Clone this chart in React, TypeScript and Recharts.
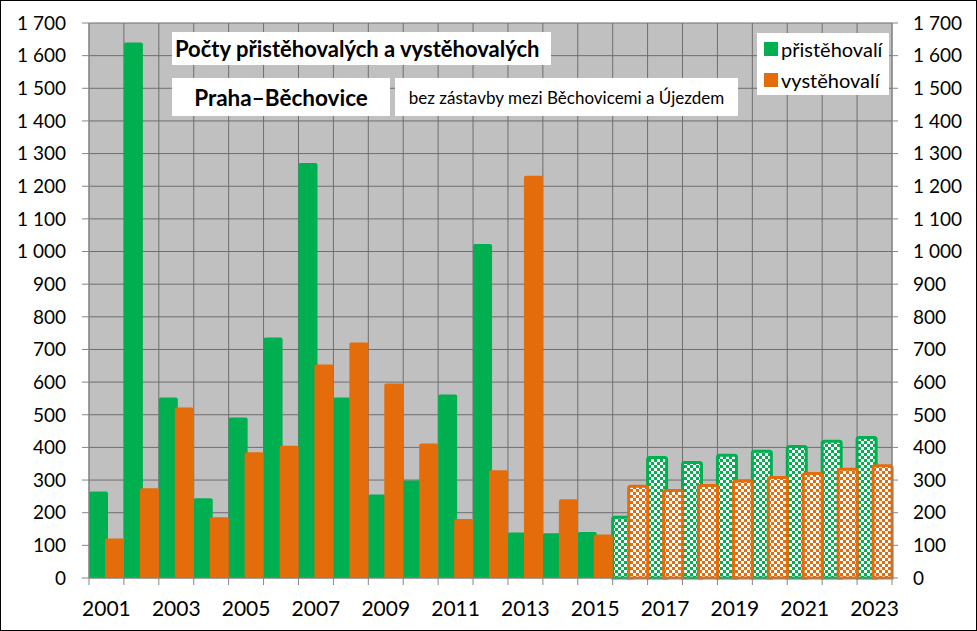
import React from "react";
import {
  ComposedChart,
  Bar,
  Line,
  Cell,
  XAxis,
  YAxis,
  CartesianGrid,
} from "recharts";

// roky a hodnoty (od 2016 odhad / projekce -> kostkovaný vzor)
const years = [
  "2001", "2002", "2003", "2004", "2005", "2006", "2007", "2008", "2009", "2010", "2011", "2012",
  "2013", "2014", "2015", "2016", "2017", "2018", "2019", "2020", "2021", "2022", "2023",
];
const immigrants = [
  265, 1640, 553, 244, 492, 737, 1271, 553, 256, 299, 562, 1023,
  139, 137, 141, 186, 369, 354, 376, 388, 403, 419, 430,
];
const emigrants = [
  121, 275, 522, 186, 385, 405, 654, 721, 596, 412, 181, 330,
  1232, 241, 133, 281, 268, 283, 297, 308, 320, 333, 344,
];
const firstProjectedYear = "2016";
const yTicks = [0, 100, 200, 300, 400, 500, 600, 700, 800, 900, 1000, 1100, 1200, 1300, 1400, 1500, 1600, 1700];

const GREEN = "#00b050";
const ORANGE = "#e46c0a";
const AXIS = "#868686";
const FONT = "Lato, 'Noto Sans', sans-serif";

const data = years.map((year, i) => ({
  year,
  prist: immigrants[i],
  vyst: emigrants[i],
}));

const formatThousands = (v: number) =>
  v >= 1000 ? `${Math.floor(v / 1000)} ${String(v % 1000).padStart(3, "0")}` : `${v}`;

const isProjected = (year: string) => Number(year) >= Number(firstProjectedYear);

// popisky osy x: každý druhý rok, značky na hranicích kategorií
function YearTick(props: any) {
  const { x, y, payload, index } = props;
  const half = payload && payload.offset ? payload.offset : 17.46;
  const i = payload && payload.index !== undefined ? payload.index : index;
  return (
    <g>
      <line x1={x - half} x2={x - half} y1={y} y2={y + 7} stroke={AXIS} />
      {i === years.length - 1 && <line x1={x + half} x2={x + half} y1={y} y2={y + 7} stroke={AXIS} />}
      {i % 2 === 0 && (
        <text x={x} y={y + 38} textAnchor="middle" fill="#000" fontSize={21} fontFamily={FONT}>
          {payload.value}
        </text>
      )}
    </g>
  );
}

const box: React.CSSProperties = {
  position: "absolute",
  background: "#ffffff",
  color: "#000",
  fontFamily: FONT,
  whiteSpace: "nowrap",
  display: "flex",
  alignItems: "center",
};

export default function App() {
  return (
    <div style={{ position: "absolute", left: 0, top: 0, width: 977, height: 631, background: "#fff" }}>
      <ComposedChart
        width={977}
        height={631}
        data={data}
        margin={{ top: 23, right: 0, bottom: 0, left: 0 }}
        barCategoryGap={0}
        barGap={-3}
      >
        <defs>
          <pattern id="chkGreen" patternUnits="userSpaceOnUse" width={6} height={6}>
            <rect width={6} height={6} fill={GREEN} />
            <rect x={0} y={0} width={3} height={3} fill="#ffffff" />
            <rect x={3} y={3} width={3} height={3} fill="#ffffff" />
          </pattern>
          <pattern id="chkOrange" patternUnits="userSpaceOnUse" width={6} height={6}>
            <rect width={6} height={6} fill={ORANGE} />
            <rect x={0} y={0} width={3} height={3} fill="#ffffff" />
            <rect x={3} y={3} width={3} height={3} fill="#ffffff" />
          </pattern>
        </defs>
        <CartesianGrid
          xAxisId="cat"
          yAxisId="left"
          stroke="#6e6e6e"
          strokeWidth={1}
          fill="#c0c0c0"
          fillOpacity={1}
          verticalCoordinatesGenerator={({ offset }: any) =>
            years.map((_, i) => offset.left + (i * offset.width) / years.length).concat([offset.left + offset.width])
          }
        />
        <XAxis
          xAxisId="cat"
          dataKey="year"
          interval={0}
          stroke={AXIS}
          tickLine={false}
          tickSize={0}
          tickMargin={0}
          height={53}
          tick={<YearTick />}
        />
        <YAxis
          yAxisId="left"
          domain={[0, 1700]}
          ticks={yTicks}
          interval={0}
          width={89}
          tickSize={7}
          tickMargin={16}
          stroke={AXIS}
          tickFormatter={formatThousands}
          tick={{ fill: "#000", fontSize: 19, fontFamily: FONT }}
        />
        <YAxis
          yAxisId="right"
          orientation="right"
          domain={[0, 1700]}
          ticks={yTicks}
          interval={0}
          width={85}
          tickSize={6}
          tickMargin={15}
          stroke={AXIS}
          tickFormatter={formatThousands}
          tick={{ fill: "#000", fontSize: 19, fontFamily: FONT }}
        />
        <Bar xAxisId="cat" yAxisId="left" dataKey="prist" name="přistěhovalí" fill={GREEN} radius={[2, 2, 0, 0]} isAnimationActive={false}>
          {data.map((d) => (
            <Cell
              key={d.year}
              fill={isProjected(d.year) ? "url(#chkGreen)" : GREEN}
              stroke={isProjected(d.year) ? GREEN : "none"}
              strokeWidth={isProjected(d.year) ? 3 : 0}
            />
          ))}
        </Bar>
        <Bar xAxisId="cat" yAxisId="left" dataKey="vyst" name="vystěhovalí" fill={ORANGE} radius={[2, 2, 0, 0]} isAnimationActive={false}>
          {data.map((d) => (
            <Cell
              key={d.year}
              fill={isProjected(d.year) ? "url(#chkOrange)" : ORANGE}
              stroke={isProjected(d.year) ? ORANGE : "none"}
              strokeWidth={isProjected(d.year) ? 3 : 0}
            />
          ))}
        </Bar>
        {/* neviditelná řada jen kvůli pravé ose */}
        <Line
          xAxisId="cat"
          yAxisId="right"
          dataKey="prist"
          stroke="none"
          dot={false}
          activeDot={false}
          legendType="none"
          isAnimationActive={false}
        />
      </ComposedChart>

      {/* popisky v grafu */}
      <div style={{ ...box, left: 172, top: 32, width: 376, height: 33, paddingLeft: 3, fontSize: 22, fontWeight: 700 }}>
        Počty přistěhovalých a vystěhovalých
      </div>
      <div style={{ ...box, left: 172, top: 78, width: 218, height: 38, justifyContent: "center", fontSize: 22.5, fontWeight: 700 }}>
        Praha–Běchovice
      </div>
      <div style={{ ...box, left: 395, top: 78, width: 343, height: 38, justifyContent: "center", fontSize: 17 }}>
        bez zástavby mezi Běchovicemi a Újezdem
      </div>
      <div
        style={{
          ...box,
          left: 757,
          top: 33,
          width: 132,
          height: 62,
          flexDirection: "column",
          alignItems: "flex-start",
          justifyContent: "center",
          fontSize: 20,
        }}
      >
        {[
          { label: "přistěhovalí", color: GREEN },
          { label: "vystěhovalí", color: ORANGE },
        ].map((item) => (
          <div key={item.label} style={{ display: "flex", alignItems: "center", height: 31 }}>
            <span style={{ display: "inline-block", width: 14, height: 14, background: item.color, marginLeft: 7, marginRight: 3 }} />
            {item.label}
          </div>
        ))}
      </div>
      <div style={{ position: "absolute", left: 0, top: 0, width: 977, height: 631, boxSizing: "border-box", border: "1px solid #000", pointerEvents: "none" }} />
    </div>
  );
}
